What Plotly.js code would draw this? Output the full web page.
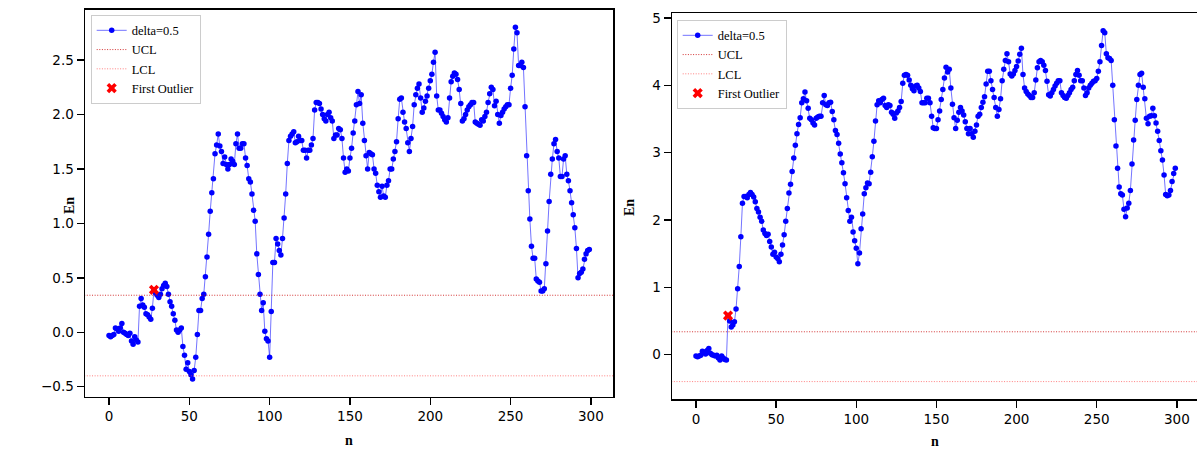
<!DOCTYPE html>
<html>
<head>
<meta charset="utf-8">
<script src="https://cdn.plot.ly/plotly-3.0.1.min.js"></script>
<style>html,body{margin:0;padding:0;background:#fff;}#chart{width:1197px;height:450px;}</style>
</head>
<body>
<div id="chart"></div>
<script>
// ---- Data ----
const seriesName = "delta=0.5";
const UCL = 0.34;
const LCL = -0.40;
const xTicks = [0, 50, 100, 150, 200, 250, 300];

// Left chart: En values for n = 0..299
const leftEn = [
  -0.03,-0.04,-0.03,-0.02,0.04,0.03,0.01,0.04,0.08,0.0,-0.01,-0.02,-0.03,-0.01,-0.08,-0.11,-0.04,-0.07,-0.09,
  0.24,0.31,0.25,0.23,0.17,0.16,0.14,0.12,0.22,
  0.39,
  0.36,0.34,0.32,0.35,0.40,0.43,0.45,0.42,0.35,0.28,0.24,0.17,0.11,0.02,0.0,0.02,0.04,
  -0.13,-0.21,-0.34,-0.28,-0.36,-0.39,-0.43,-0.35,-0.23,-0.02,0.2,0.2,0.31,0.35,0.51,0.69,0.9,1.11,1.28,1.41,1.64,1.72,1.82,
  1.71,1.66,1.55,1.61,1.54,1.50,1.54,1.59,1.57,1.54,1.73,1.82,1.69,1.69,1.73,1.73,1.60,1.53,1.41,1.38,1.27,1.12,1.02,0.72,0.53,0.35,0.20,0.27,0.01,-0.06,-0.08,-0.23,
  0.19,0.64,0.64,0.86,0.81,0.75,0.71,0.86,1.05,1.27,1.55,1.76,1.80,1.82,1.84,1.74,1.75,1.80,1.76,1.76,1.67,1.67,1.60,1.67,1.67,1.72,1.78,2.04,2.11,2.11,2.10,2.05,2.0,1.96,1.94,2.0,2.02,1.97,1.94,1.78,1.81,1.81,1.87,1.86,1.78,1.60,1.47,1.50,
  1.48,1.60,1.69,1.83,1.94,2.09,2.21,2.10,2.18,1.92,1.76,1.62,1.50,1.65,1.64,1.63,1.50,1.46,1.35,1.29,1.24,1.34,1.25,1.24,1.35,1.39,1.50,1.50,1.59,1.66,1.75,1.96,2.14,2.15,2.02,1.93,1.87,1.74,1.66,1.78,1.89,2.09,2.18,2.24,2.28,2.15,2.02,2.06,2.12,2.17,2.24,2.31,2.37,2.48,2.57,
  2.17,2.04,2.04,2.01,1.98,1.95,1.93,1.97,2.15,2.30,2.35,2.38,2.37,2.32,2.23,2.10,1.94,1.96,2.0,2.04,2.07,2.09,2.11,2.11,
  1.93,1.92,1.91,1.90,1.95,1.94,1.98,2.02,2.11,2.19,2.25,2.23,2.08,2.12,2.0,1.92,1.99,2.02,2.05,2.07,2.09,2.09,2.24,2.36,2.60,2.80,
  2.75,2.45,2.45,2.48,2.43,2.07,1.62,1.30,1.04,0.79,0.68,0.68,0.49,0.47,0.46,0.38,0.38,0.40,0.63,0.93,1.20,1.45,1.59,1.73,1.77,1.66,1.60,1.43,1.43,1.59,1.62,1.45,1.39,1.30,1.19,1.08,0.96,0.77,0.50,0.54,0.55,0.58,0.67,0.72,0.75,0.76
];
const leftOutlierN = 28;

// Right chart: En values for n = 0..299
const rightEn = [
  -0.02,-0.03,-0.02,-0.01,0.05,0.04,0.01,0.06,0.09,0.02,0.0,-0.01,-0.02,-0.01,-0.05,-0.08,-0.02,-0.05,-0.07,-0.08,
  0.58,
  0.50,0.41,0.44,0.49,0.68,0.98,1.31,1.75,2.25,2.35,2.35,2.33,2.38,2.41,2.38,2.34,2.27,2.17,2.12,2.04,1.98,1.85,1.80,1.77,1.79,1.68,1.60,1.49,1.52,1.45,1.43,1.38,1.49,1.63,1.78,1.98,2.17,2.40,2.53,2.72,2.92,
  3.11,3.28,3.42,3.52,3.74,3.80,3.90,3.77,3.66,3.51,3.49,3.44,3.41,3.51,3.53,3.54,3.54,3.74,3.85,3.71,3.70,3.74,3.75,3.61,3.49,3.33,3.27,3.14,2.98,
  2.85,2.70,2.54,2.33,2.14,1.98,2.04,1.82,1.69,1.58,1.35,1.51,1.87,2.09,2.39,2.48,2.55,2.54,2.71,2.94,3.17,3.47,3.71,3.77,3.74,3.79,3.81,3.70,3.67,3.71,3.70,3.60,3.57,3.51,3.59,3.62,3.67,3.76,4.03,4.15,4.16,4.15,4.08,4.0,3.95,3.92,3.99,4.0,3.96,3.91,3.74,
  3.74,3.74,3.81,3.81,3.74,3.54,3.37,3.36,3.36,3.49,3.62,3.79,3.94,4.11,4.27,4.20,4.24,3.96,3.72,3.52,3.36,3.48,3.60,3.67,3.62,3.56,3.46,3.36,3.28,3.36,3.28,3.23,3.32,3.41,3.54,3.57,3.67,3.75,3.83,4.02,4.21,4.21,4.07,3.94,3.82,3.67,3.54,3.64,3.80,4.07,4.24,4.37,4.47,4.35,4.17,4.14,4.17,4.22,4.28,4.36,4.46,4.55,
  4.16,3.96,3.91,3.87,3.85,3.82,3.82,3.89,4.08,4.26,4.35,4.37,4.35,4.30,4.22,4.06,3.86,3.84,
  3.89,3.94,3.99,4.03,4.07,4.07,3.89,3.85,3.82,3.81,3.85,3.89,3.94,3.97,4.07,4.16,4.22,4.15,4.07,4.07,3.96,3.85,3.89,3.96,4.0,4.03,4.06,4.07,4.10,4.21,4.35,4.59,
  4.81,4.78,4.47,4.41,4.40,4.37,4.0,3.49,3.10,2.77,2.49,2.39,2.37,2.16,2.05,2.18,2.25,2.44,2.83,3.19,3.48,3.79,4.0,4.16,4.18,3.97,3.80,3.51,3.43,3.54,3.55,3.66,3.55,3.44,3.32,3.18,3.03,2.89,2.67,2.38,2.36,2.37,2.44,2.57,2.69,2.77
];
const rightOutlierN = 20;

// ---- Build ----
const W = 1197, H = 450;
const px = v => v / W;
const py = v => (H - v) / H;

function buildTraces(en, outN, xa, ya, lg) {
  const n = en.map((_, i) => i);
  return [
    {x: n, y: en, type: 'scatter', mode: 'lines+markers', name: seriesName,
     xaxis: xa, yaxis: ya, legend: lg,
     line: {color: 'rgba(0,0,255,0.55)', width: 1},
     marker: {color: '#0000ff', size: 5.5}},
    {x: [-30, 330], y: [UCL, UCL], type: 'scatter', mode: 'lines', name: 'UCL',
     xaxis: xa, yaxis: ya, legend: lg,
     line: {color: 'rgba(200,0,0,0.8)', width: 1, dash: '1px,1.6px'}},
    {x: [-30, 330], y: [LCL, LCL], type: 'scatter', mode: 'lines', name: 'LCL',
     xaxis: xa, yaxis: ya, legend: lg,
     line: {color: 'rgba(255,60,60,0.65)', width: 1, dash: '1px,1.6px'}},
    {x: [outN], y: [en[outN]], type: 'scatter', mode: 'markers', name: 'First Outlier',
     xaxis: xa, yaxis: ya, legend: lg,
     marker: {color: '#ff0000', size: 9, symbol: 'x'}}
  ];
}

const traces = [
  ...buildTraces(leftEn, leftOutlierN, 'x', 'y', 'legend'),
  ...buildTraces(rightEn, rightOutlierN, 'x2', 'y2', 'legend2')
];

const tickFont = {family: 'DejaVu Sans', size: 13.5, color: '#000'};
const axBase = {
  showline: true, mirror: true, linecolor: '#000', linewidth: 1.5,
  ticks: 'outside', ticklen: 7, tickwidth: 1.4, tickcolor: '#000',
  showgrid: false, zeroline: false, tickfont: tickFont, fixedrange: true
};

const legendBase = {
  xanchor: 'left', yanchor: 'top',
  bgcolor: 'rgba(255,255,255,0.8)', bordercolor: '#cccccc', borderwidth: 1,
  font: {family: 'Liberation Serif', size: 12.5, color: '#000'},
  itemwidth: 30, tracegroupgap: 0
};

const titleFont = {family: 'Liberation Serif', size: 14, color: '#000', weight: 'bold'};

const layout = {
  width: W, height: H,
  margin: {l: 0, r: 0, t: 0, b: 0},
  paper_bgcolor: '#fff', plot_bgcolor: '#fff',
  showlegend: true,
  xaxis: Object.assign({}, axBase, {domain: [px(85), px(613.3)], range: [-14.95, 313.95],
    tickvals: xTicks, anchor: 'y'}),
  yaxis: Object.assign({}, axBase, {domain: [py(396.7), py(9.7)], range: [-0.5915, 2.9615],
    dtick: 0.5, tick0: 0, tickformat: '.1f', anchor: 'x'}),
  xaxis2: Object.assign({}, axBase, {domain: [px(672), 1], range: [-14.95, 312.55],
    tickvals: xTicks, anchor: 'y2'}),
  yaxis2: Object.assign({}, axBase, {domain: [py(399.1), py(13.3)], range: [-0.66, 5.07],
    dtick: 1, tick0: 0, tickformat: 'd', anchor: 'x2'}),
  legend: Object.assign({}, legendBase, {x: px(90.7), y: py(14.7)}),
  legend2: Object.assign({}, legendBase, {x: px(676.7), y: py(19.7)}),
  annotations: [
    {text: '<b>En</b>', xref: 'paper', yref: 'paper', x: px(70), y: py(206), textangle: -90,
     showarrow: false, font: titleFont, xanchor: 'center', yanchor: 'middle'},
    {text: '<b>n</b>', xref: 'paper', yref: 'paper', x: px(349), y: py(440),
     showarrow: false, font: titleFont, xanchor: 'center', yanchor: 'middle'},
    {text: '<b>En</b>', xref: 'paper', yref: 'paper', x: px(629), y: py(208), textangle: -90,
     showarrow: false, font: titleFont, xanchor: 'center', yanchor: 'middle'},
    {text: '<b>n</b>', xref: 'paper', yref: 'paper', x: px(935), y: py(441),
     showarrow: false, font: titleFont, xanchor: 'center', yanchor: 'middle'}
  ]
};

Plotly.newPlot('chart', traces, layout, {displayModeBar: false, staticPlot: true});
</script>
</body>
</html>
